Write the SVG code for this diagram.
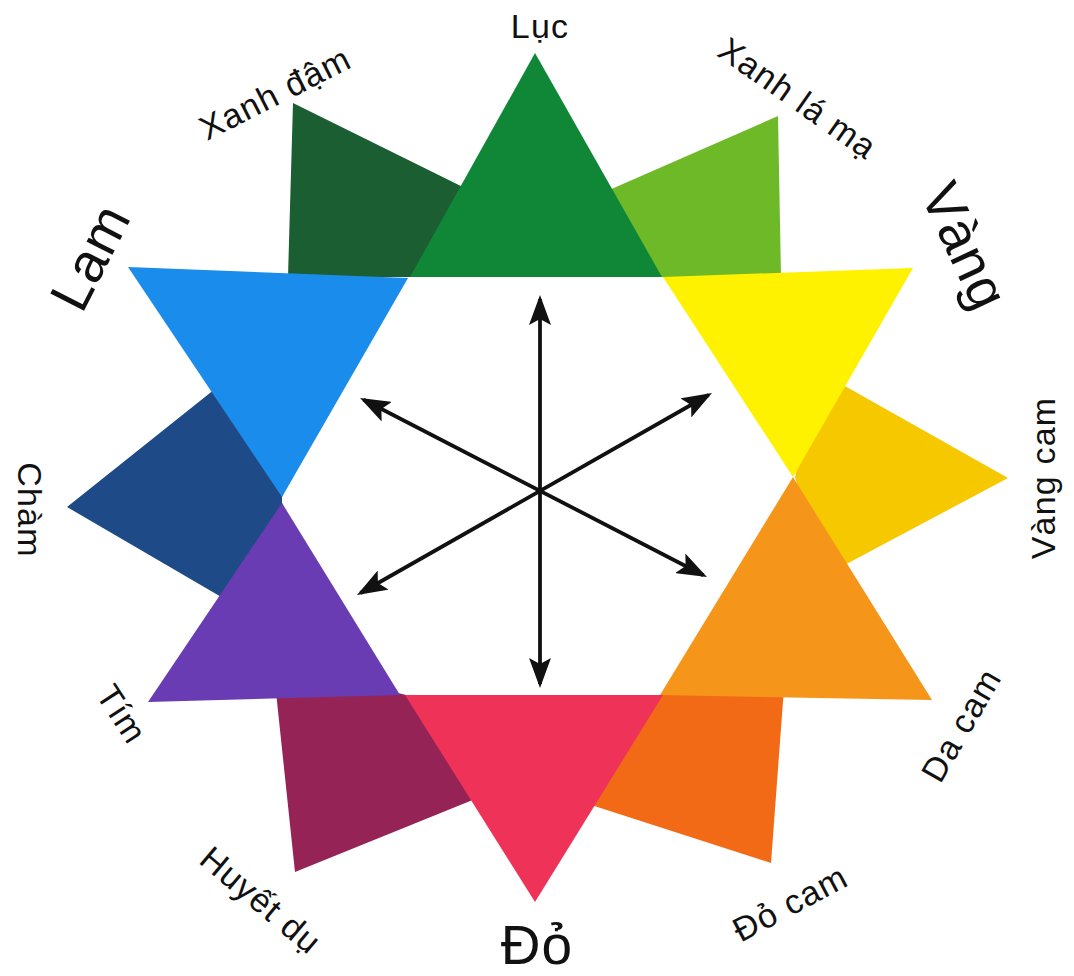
<svg xmlns="http://www.w3.org/2000/svg" width="1074" height="976" viewBox="0 0 1074 976">
  <style>
    .lbl { font-family: "Liberation Sans", Arial, sans-serif; fill: #111111; text-anchor: middle; }
    .sm { font-size: 34px; letter-spacing: 1.2px; }
    .lg { font-size: 55px; letter-spacing: 1px; }
    .arrow { stroke: #111; stroke-width: 3.8; fill: none; marker-start: url(#ah); marker-end: url(#ah); }
  </style>
  <defs>
    <marker id="ah" markerUnits="userSpaceOnUse" markerWidth="30" markerHeight="22" viewBox="0 0 30 22" refX="26" refY="11" orient="auto-start-reverse">
      <path d="M0,0 L30,11 L0,22 L6,11 Z" fill="#111"/>
    </marker>
  </defs>
  <rect width="1074" height="976" fill="#ffffff"/>

  <!-- tertiary colours (behind) -->
  <g id="xanh-dam">
    <polygon points="293,103 475,193 420,277 288,277" fill="#1b5e32"/>
  </g>
  <g id="xanh-la-ma">
    <polygon points="778,116 600,194 650,277 781,277" fill="#6eb928"/>
  </g>
  <g id="vang-cam">
    <polygon points="1008,478 820,372 795,477 822,577" fill="#f5c800"/>
  </g>
  <g id="do-cam">
    <polygon points="784,688 771,863 585,803 656,697 664,694" fill="#f26a16"/>
  </g>
  <g id="huyet-du">
    <polygon points="276,692 295,872 485,795 410,696 398,693" fill="#952355"/>
  </g>
  <g id="cham">
    <polygon points="67,507 230,377 290,480 282,497 282,503 290,520 235,605" fill="#1e4b87"/>
  </g>

  <!-- primary / secondary triangles -->
  <g id="luc">
    <polygon points="535,53 662,277 410,277" fill="#108737"/>
  </g>
  <g id="vang">
    <polygon points="663,277 913,268 793,477" fill="#fff200"/>
  </g>
  <g id="da-cam">
    <polygon points="793,477 932,700 660,695" fill="#f5961a"/>
  </g>
  <g id="do">
    <polygon points="405,695 663,695 535,902" fill="#ef3257"/>
  </g>
  <g id="tim">
    <polygon points="282,503 400,695 148,702" fill="#6a3cb4"/>
  </g>
  <g id="lam">
    <polygon points="128,267 408,278 282,497" fill="#1a8ceb"/>
  </g>

  <!-- connectors -->
  <g id="connectors">
    <line class="arrow" x1="540" y1="299" x2="540" y2="684"/>
    <line class="arrow" x1="363.6" y1="399.8" x2="703.4" y2="575.2"/>
    <line class="arrow" x1="708.5" y1="395" x2="360.5" y2="593"/>
  </g>

  <!-- labels -->
  <g id="labels">
    <text class="lbl sm" x="540" y="38">Lục</text>
    <text class="lbl sm" dominant-baseline="central" transform="translate(275,93) rotate(-27)">Xanh đậm</text>
    <text class="lbl sm" dominant-baseline="central" transform="translate(798,98) rotate(35)">Xanh lá mạ</text>
    <text class="lbl lg" dominant-baseline="central" transform="translate(965,246) rotate(65)">Vàng</text>
    <text class="lbl sm" dominant-baseline="central" transform="translate(1043,478) rotate(-90)">Vàng cam</text>
    <text class="lbl sm" dominant-baseline="central" transform="translate(961,725) rotate(-60)">Da cam</text>
    <text class="lbl sm" dominant-baseline="central" transform="translate(790,903) rotate(-28)">Đỏ cam</text>
    <text class="lbl lg" x="537" y="964">Đỏ</text>
    <text class="lbl sm" dominant-baseline="central" transform="translate(261,900) rotate(40)">Huyết dụ</text>
    <text class="lbl sm" dominant-baseline="central" transform="translate(122,714) rotate(57)">Tím</text>
    <text class="lbl sm" dominant-baseline="central" transform="translate(30,510) rotate(90)">Chàm</text>
    <text class="lbl lg" dominant-baseline="central" transform="translate(90,257) rotate(-63)">Lam</text>
  </g>
</svg>
